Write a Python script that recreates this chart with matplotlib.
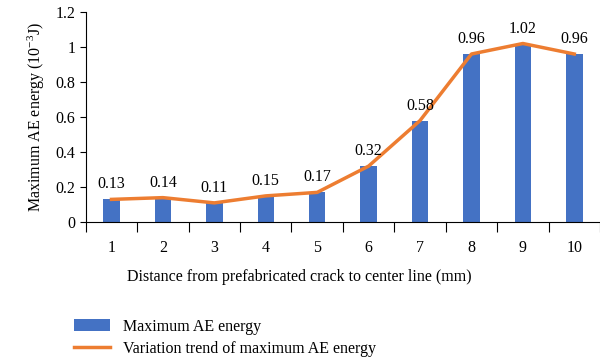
import matplotlib.pyplot as plt
from matplotlib.patches import Patch
from matplotlib.lines import Line2D

plt.rcParams['font.family'] = ['Liberation Serif', 'DejaVu Serif']
plt.rcParams['mathtext.fontset'] = 'custom'
plt.rcParams['mathtext.rm'] = 'Liberation Serif'
plt.rcParams['mathtext.it'] = 'Liberation Serif:italic'

distance = [1, 2, 3, 4, 5, 6, 7, 8, 9, 10]
energy = [0.13, 0.14, 0.11, 0.15, 0.17, 0.32, 0.58, 0.96, 1.02, 0.96]
labels = ["0.13", "0.14", "0.11", "0.15", "0.17", "0.32", "0.58", "0.96", "1.02", "0.96"]

bar_color = "#4472C4"
line_color = "#ED7D31"
fs = 11.5

fig = plt.figure(figsize=(6, 3.63), dpi=100)
ax = fig.add_axes([0.143, 0.388, 0.857, 0.579])

x = list(range(len(distance)))
ax.bar(x, energy, width=0.32, color=bar_color, zorder=2)
ax.plot(x, energy, color=line_color, linewidth=2.5, zorder=3)

for xi, v, s in zip(x, energy, labels):
    ax.annotate(s, (xi, v), xytext=(0, 5), textcoords="offset points",
                ha="center", va="bottom", fontsize=fs)

ax.set_xlim(-0.5, len(x) - 0.5)
ax.set_ylim(0, 1.2)
ax.set_yticks([0, 0.2, 0.4, 0.6, 0.8, 1.0, 1.2])
ax.set_yticklabels(["0", "0.2", "0.4", "0.6", "0.8", "1", "1.2"])
ax.set_xticks(x)
ax.set_xticklabels([str(d) for d in distance])
ax.set_xticks([i - 0.5 for i in range(len(x) + 1)], minor=True)
ax.tick_params(axis="x", which="major", length=0, pad=13, labelsize=fs)
ax.tick_params(axis="x", which="minor", length=7, width=0.8, direction="out")
ax.tick_params(axis="y", length=4, width=0.8, labelsize=fs)

for side in ["top", "right"]:
    ax.spines[side].set_visible(False)
ax.spines["left"].set_linewidth(0.8)
ax.spines["bottom"].set_linewidth(0.8)

ax.set_xlabel("Distance from prefabricated crack to center line (mm)", fontsize=fs, labelpad=14)
# the x label sits at the figure centre, not the axes centre
ax.xaxis.set_label_coords(0.416, -0.225)
ax.set_ylabel("Maximum AE energy (10$^{-3}$J)", fontsize=fs, labelpad=6)

handles = [Patch(facecolor=bar_color, edgecolor="none"),
           Line2D([0], [0], color=line_color, linewidth=2.5)]
fig.legend(handles, ["Maximum AE energy", "Variation trend of maximum AE energy"],
           loc="upper left", bbox_to_anchor=(0.112, 0.14), frameon=False,
           fontsize=fs, handlelength=2.3, handleheight=0.8, handletextpad=0.8,
           labelspacing=0.4, borderaxespad=0)

fig.savefig("out.png", dpi=100)
